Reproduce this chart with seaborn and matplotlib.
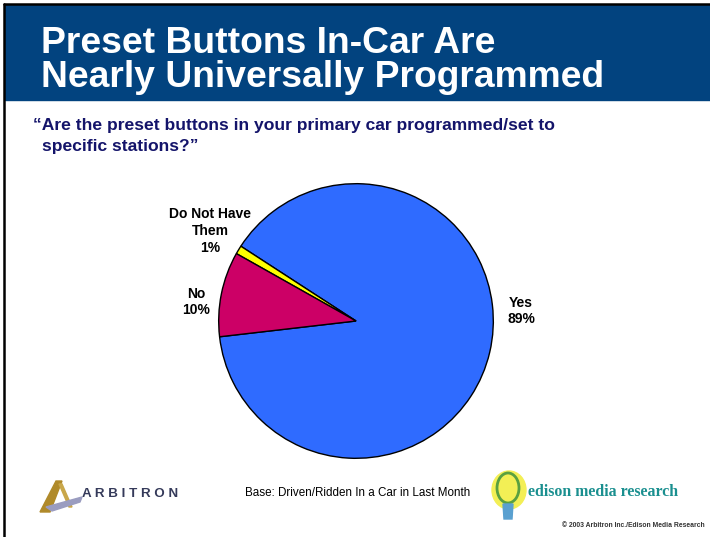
import matplotlib
matplotlib.use("Agg")
import matplotlib.pyplot as plt
import matplotlib.patches as mpatches
import seaborn as sns

# === Data ===
answers  = ["Yes", "Do Not Have\nThem", "No"]
percents = [89, 1, 10]
colors   = ["#2f6bff", "#ffff00", "#cc0066"]

title_lines = ["Preset Buttons In-Car Are", "Nearly Universally Programmed"]
question = ["\u201cAre the preset buttons in your primary car programmed/set to",
            "specific stations?\u201d"]
base_note = "Base: Driven/Ridden In a Car in Last Month"
copyright_note = "\u00a9 2003 Arbitron Inc./Edison Media Research"

sns.set_theme(style="white")
plt.rcParams["font.family"] = ["Liberation Sans", "DejaVu Sans"]

W, H = 710, 537
fig = plt.figure(figsize=(W / 100, H / 100), dpi=100)
fig.patch.set_facecolor("white")

def fx(px):
    return px / W

def fy(py):
    return 1 - py / H

def poly(pts, **kw):
    fig.patches.append(mpatches.Polygon([(fx(x), fy(y)) for x, y in pts], closed=True,
                                        transform=fig.transFigure, **kw))

# header band + frame lines
poly([(5, 5), (710, 5), (710, 100), (5, 100)], color="#02437f", zorder=0)
fig.add_artist(plt.Line2D([fx(3.5), fx(3.5)], [fy(3.5), fy(537)], color="black", lw=1.8))
fig.add_artist(plt.Line2D([fx(3.5), fx(710)], [fy(3.5), fy(3.5)], color="black", lw=1.8))

fig.text(fx(41), fy(53), title_lines[0], color="white", fontsize=26.8, fontweight="bold",
         va="baseline", ha="left")
fig.text(fx(41), fy(87), title_lines[1], color="white", fontsize=26.8, fontweight="bold",
         va="baseline", ha="left")

fig.text(fx(33), fy(130), question[0], color="#14146a", fontsize=12.6, fontweight="bold",
         va="baseline")
fig.text(fx(42), fy(151), question[1], color="#14146a", fontsize=12.6, fontweight="bold",
         va="baseline")

# === Pie ===
cx, cy, r = 356, 321, 138
ax = fig.add_axes([fx(cx - r), fy(cy + r), fx(2 * r), fy(cy - r) - fy(cy + r)])
ax.pie(percents, colors=colors, startangle=186.6, counterclock=True,
       wedgeprops={"edgecolor": "black", "linewidth": 1})
ax.set_xlim(-1.005, 1.005)
ax.set_ylim(-1.005, 1.005)
ax.set_aspect("equal")
ax.axis("off")

lbl = dict(fontsize=10, fontweight="bold", ha="center", va="center", color="black",
           linespacing=1.25)
fig.text(fx(521), fy(311), f"{answers[0]}\n{percents[0]}%", **lbl)
fig.text(fx(210), fy(231), f"{answers[1]}\n{percents[1]}%", **lbl)
fig.text(fx(196), fy(302), f"{answers[2]}\n{percents[2]}%", **lbl)

# === Footer ===
fig.text(fx(245), fy(496), base_note, fontsize=8.4, color="black", va="baseline")
fig.text(fx(705), fy(527), copyright_note, fontsize=4.9, fontweight="bold",
         color="#333333", ha="right", va="baseline")

# Arbitron mark
poly([(40, 512), (56, 481), (62, 481), (50, 512)], color="#b08a2a")
poly([(59, 484), (62, 484), (72, 507), (69, 507)], color="#c9a74a")
poly([(46, 507), (82, 497), (80, 502), (52, 511)], color="#9a9cc0")
fig.text(fx(82), fy(497), "A R B I T R O N", fontsize=9.6, fontweight="bold",
         color="#353a5a", va="baseline")

# Edison mark
fig.patches.append(mpatches.Ellipse((fx(509), fy(490)), fx(34), fy(0) - fy(38),
                                    transform=fig.transFigure, color="#f3ef55", zorder=1))
fig.patches.append(mpatches.Ellipse((fx(508), fy(488)), fx(22), fy(0) - fy(30),
                                    transform=fig.transFigure, fill=False,
                                    edgecolor="#5aa040", linewidth=2, zorder=2))
poly([(503, 504), (513, 504), (512, 519), (504, 519)], color="#5aa0d0", zorder=2)
fig.text(fx(528), fy(496), "edison media research", fontsize=11.4, fontweight="bold",
         color="#1a8f8f", family=["Liberation Serif", "DejaVu Serif"], va="baseline")

fig.savefig("out.png", dpi=100)
